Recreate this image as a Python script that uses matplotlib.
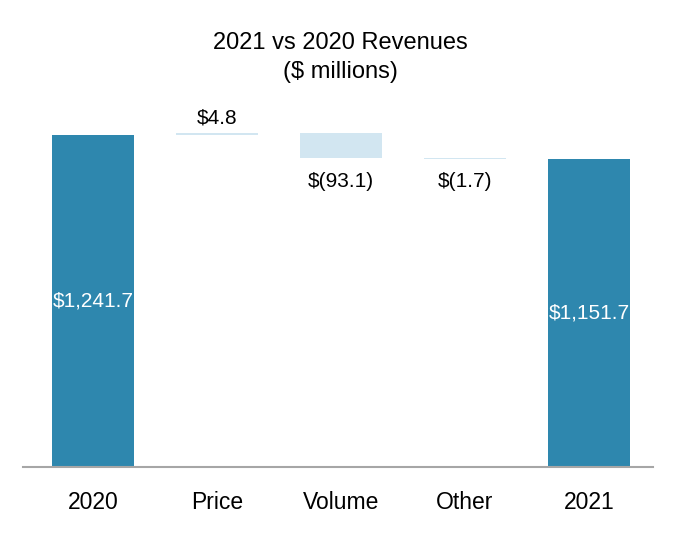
import matplotlib.pyplot as plt

plt.rcParams["font.family"] = ["Liberation Sans", "DejaVu Sans"]

categories = ["2020", "Price", "Volume", "Other", "2021"]
changes = [1241.7, 4.8, -93.1, -1.7, 1151.7]
labels = ["$1,241.7", "$4.8", "$(93.1)", "$(1.7)", "$1,151.7"]
is_total = [True, False, False, False, True]

DARK = "#2E87AE"
LIGHT = "#D2E6F1"

fig = plt.figure(figsize=(6.8, 5.4), dpi=100)
ax = fig.add_axes([0.034, 0.135, 0.926, 0.68])

running = 0.0
x = list(range(len(categories)))
for i, (cat, val, lab, tot) in enumerate(zip(categories, changes, labels, is_total)):
    if tot:
        bottom, height = 0, val
        running = val
        color = DARK
    else:
        bottom = running if val >= 0 else running + val
        height = abs(val)
        running += val
        color = LIGHT
    ax.bar(i, height, bottom=bottom, width=0.66, color=color)
    if tot:
        ax.text(i, val / 2, lab, ha="center", va="center", color="white", fontsize=15)
    elif val >= 0:
        ax.text(i, bottom + height + 22, lab, ha="center", va="bottom", fontsize=15)
    else:
        ax.text(i, bottom - 50, lab, ha="center", va="top", fontsize=15)

ax.set_xlim(-0.565, 4.516)
ax.set_ylim(0, 1372)
ax.set_xticks(x)
ax.set_xticklabels(categories, fontsize=16.5)
ax.tick_params(axis="x", length=0, pad=17)
ax.set_yticks([])
for side in ["top", "right", "left"]:
    ax.spines[side].set_visible(False)
ax.spines["bottom"].set_color("#A6A6A6")
ax.spines["bottom"].set_linewidth(1.5)

fig.text(0.5, 0.894, "2021 vs 2020 Revenues\n($ millions)", ha="center", va="center",
         fontsize=17, linespacing=1.4)

fig.savefig("out.png", dpi=100)
